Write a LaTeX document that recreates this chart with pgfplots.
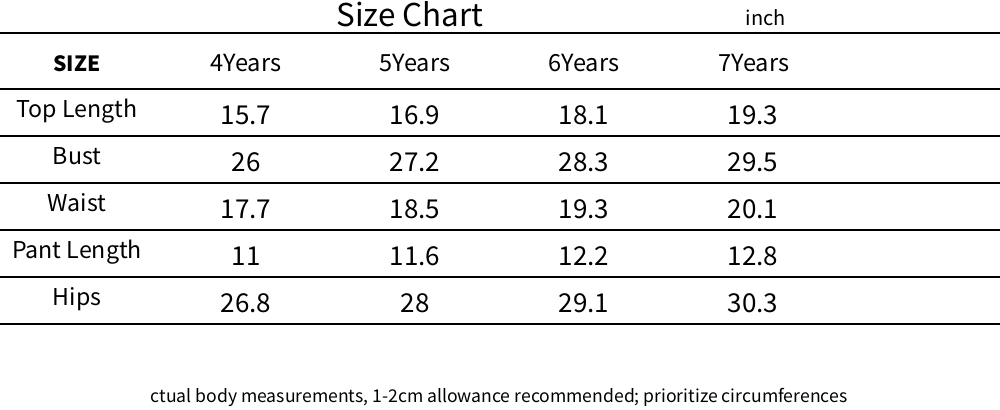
\documentclass[border=0pt]{standalone}
\usepackage{pgfplots}
\usepackage{pgfplotstable}
\pgfplotsset{compat=1.18}
\usepackage{fontspec}
\setmainfont{Noto Sans CJK SC}

\pgfplotstableread[col sep=comma]{
x,y,v
246,124,15.7
415,124,16.9
584,124,18.1
753,124,19.3
246,171,26
415,171,27.2
584,171,28.3
753,171,29.5
246,218,17.7
415,218,18.5
584,218,19.3
753,218,20.1
246,265,11
415,265,11.6
584,265,12.2
753,265,12.8
246,312,26.8
415,312,28
584,312,29.1
753,312,30.3
}\values

\pgfplotstableread[col sep=comma]{
x,y,v
77,117,Top Length
77,164,Bust
77,211,Waist
77,258,Pant Length
77,305,Hips
}\rowlabels

\pgfplotstableread[col sep=comma]{
x,y,v
246,71,4Years
415,71,5Years
584,71,6Years
754,71,7Years
}\collabels

\begin{document}
\begin{tikzpicture}
\begin{axis}[
  width=500pt, height=204.5pt, scale only axis,
  xmin=0, xmax=1000, ymin=0, ymax=409, y dir=reverse,
  hide axis, clip=false,
]
\pgfplotsinvokeforeach{33,89,136,183,230,277,324}{
  \addplot[black, line width=0.9pt, mark=none] coordinates {(0,#1) (1000,#1)};
}
\addplot[draw=none, mark=none, nodes near coords, point meta=explicit symbolic,
  every node near coord/.style={anchor=base, inner sep=0pt, font=\fontsize{13}{15}\selectfont, text=black}]
  table[x=x, y=y, meta=v] {\values};
\addplot[draw=none, mark=none, nodes near coords, point meta=explicit symbolic,
  every node near coord/.style={anchor=base, inner sep=0pt, font=\fontsize{11.6}{14}\selectfont, text=black}]
  table[x=x, y=y, meta=v] {\rowlabels};
\addplot[draw=none, mark=none, nodes near coords, point meta=explicit symbolic,
  every node near coord/.style={anchor=base, inner sep=0pt, font=\fontsize{11.8}{14}\selectfont, text=black}]
  table[x=x, y=y, meta=v] {\collabels};
\node[anchor=base, inner sep=0pt, font=\fontsize{10.5}{12}\selectfont\bfseries] at (axis cs:77,71) {SIZE};
\node[anchor=base, inner sep=0pt, font=\fontsize{15.7}{18}\selectfont] at (axis cs:410,26) {Size Chart};
\node[anchor=base, inner sep=0pt, font=\fontsize{10}{12}\selectfont] at (axis cs:766,25) {inch};
\node[anchor=base, inner sep=0pt, font=\fontsize{8.8}{11}\selectfont] at (axis cs:499,402) {ctual body measurements, 1-2cm allowance recommended; prioritize circumferences};
\end{axis}
\pgfresetboundingbox
\path (0,0) rectangle (500pt,204.5pt);
\end{tikzpicture}
\end{document}
